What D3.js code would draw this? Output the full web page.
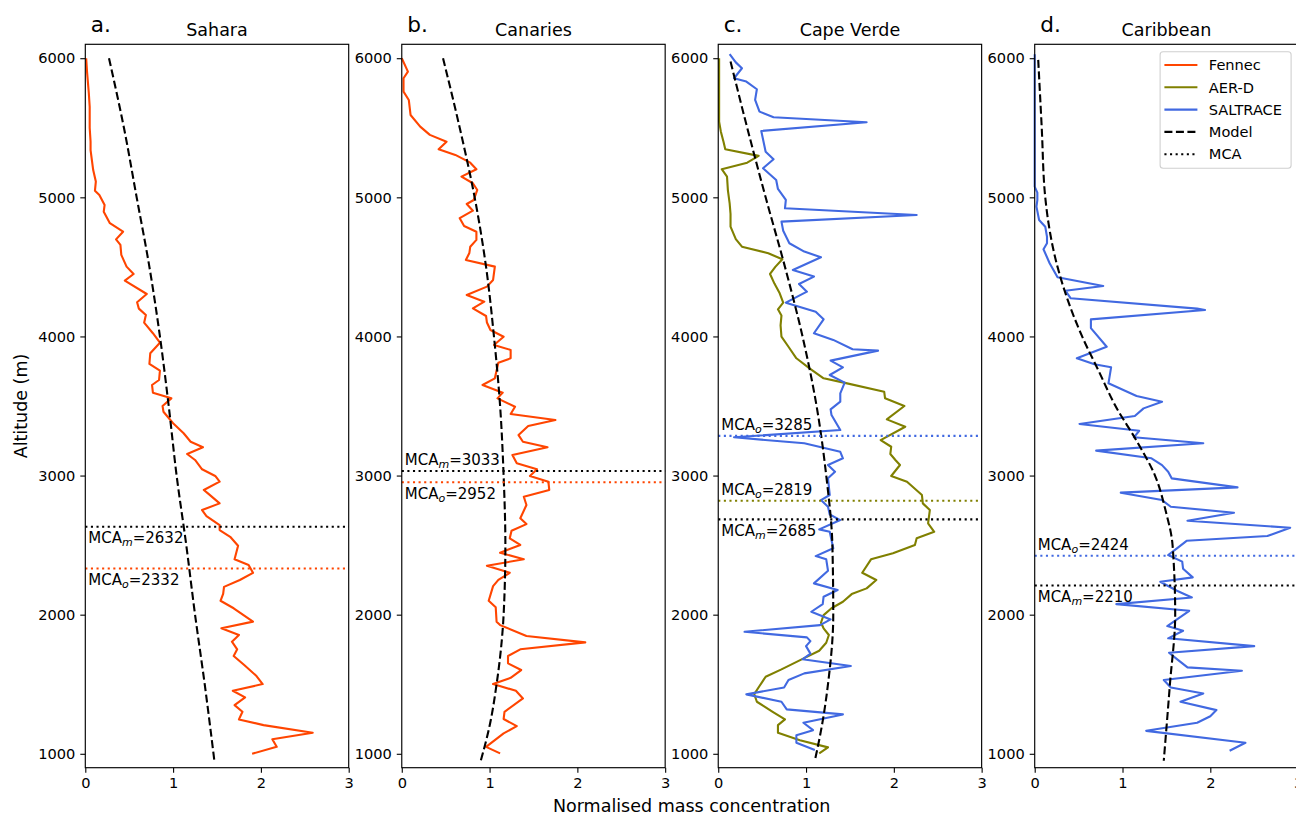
<!DOCTYPE html>
<html lang="en">
<head>
<meta charset="utf-8">
<script src="https://cdn.jsdelivr.net/npm/d3@7"></script>
<style>
  body { margin: 0; background: #fff; }
  svg { font-family: "DejaVu Sans", sans-serif; }
</style>
</head>
<body>
<script>
// ---- data: [altitude (m), normalised mass concentration] ----
var saharaFennec = [[6000,0.01],[5900,0.02],[5750,0.04],[5650,0.05],[5592,0.05],[5500,0.05],[5400,0.06],[5340,0.06],[5196,0.09],[5113,0.12],[5048,0.11],[5017,0.16],[4945,0.22],[4897,0.21],[4814,0.28],[4753,0.43],[4698,0.35],[4658,0.40],[4586,0.41],[4502,0.47],[4449,0.55],[4401,0.45],[4305,0.70],[4246,0.59],[4200,0.61],[4154,0.69],[4099,0.67],[4023,0.77],[3955,0.85],[3879,0.74],[3802,0.73],[3754,0.85],[3687,0.84],[3651,0.76],[3596,0.77],[3555,0.98],[3500,0.88],[3459,0.89],[3376,1.00],[3304,1.12],[3243,1.20],[3203,1.34],[3155,1.16],[3112,1.25],[3045,1.33],[2997,1.48],[2956,1.53],[2896,1.35],[2870,1.40],[2800,1.53],[2752,1.33],[2709,1.38],[2644,1.53],[2608,1.53],[2560,1.65],[2495,1.74],[2398,1.70],[2357,1.86],[2301,1.91],[2249,1.76],[2200,1.58],[2150,1.57],[2100,1.54],[2046,1.69],[1950,1.91],[1902,1.55],[1854,1.75],[1806,1.67],[1751,1.73],[1703,1.69],[1638,1.81],[1559,1.95],[1501,2.02],[1453,1.68],[1405,1.82],[1350,1.70],[1302,1.79],[1247,1.75],[1206,2.03],[1151,2.59],[1104,2.13],[1050,2.18],[1000,1.90]];
var saharaModel = [[6000,0.27],[5500,0.44],[5000,0.585],[4500,0.73],[4000,0.85],[3500,0.95],[3000,1.04],[2500,1.15],[2000,1.25],[1500,1.36],[950,1.47]];

var canariesFennec = [[6000,0.00],[5904,0.07],[5856,0.02],[5760,0.02],[5700,0.08],[5592,0.10],[5508,0.21],[5449,0.32],[5400,0.51],[5346,0.42],[5305,0.61],[5249,0.78],[5202,0.85],[5149,0.68],[5101,0.81],[5053,0.86],[4981,0.82],[4952,0.74],[4904,0.81],[4850,0.66],[4794,0.71],[4753,0.85],[4694,0.85],[4645,0.78],[4600,0.77],[4550,0.73],[4502,1.06],[4406,1.04],[4358,0.97],[4298,0.74],[4250,0.94],[4202,0.81],[4147,0.96],[4100,0.97],[4046,1.01],[3998,1.16],[3939,1.05],[3903,1.24],[3843,1.24],[3811,1.10],[3699,1.06],[3651,0.92],[3596,1.15],[3555,1.09],[3495,1.29],[3443,1.24],[3399,1.75],[3356,1.44],[3291,1.33],[3243,1.38],[3203,1.66],[3148,1.26],[3088,1.31],[3045,1.54],[2997,1.46],[2956,1.67],[2896,1.68],[2848,1.39],[2788,1.42],[2693,1.35],[2651,1.42],[2603,1.25],[2549,1.23],[2501,1.35],[2445,1.12],[2398,1.39],[2352,0.97],[2301,1.23],[2250,1.10],[2205,1.04],[2100,0.99],[2053,1.07],[1949,1.08],[1925,1.12],[1847,1.42],[1801,2.09],[1751,1.35],[1703,1.21],[1650,1.21],[1602,1.36],[1546,1.24],[1501,1.04],[1453,1.30],[1398,1.38],[1302,1.17],[1250,1.16],[1199,1.31],[1147,1.16],[1050,0.96],[1003,1.12]];
var canariesModel = [[6000,0.47],[5500,0.66],[5000,0.83],[4500,0.96],[4000,1.05],[3500,1.12],[3000,1.16],[2500,1.18],[2000,1.16],[1500,1.08],[1200,1.00],[950,0.90]];

var capeVerdeAerd = [[6000,0.01],[5544,0.01],[5472,0.03],[5400,0.06],[5346,0.08],[5298,0.46],[5249,0.33],[5202,0.04],[5149,0.10],[5050,0.11],[4957,0.13],[4880,0.14],[4789,0.14],[4700,0.20],[4645,0.27],[4598,0.57],[4555,0.73],[4500,0.65],[4449,0.59],[4380,0.64],[4310,0.70],[4243,0.74],[4195,0.68],[4150,0.72],[4080,0.71],[3998,0.72],[3926,0.80],[3843,0.89],[3771,1.04],[3699,1.20],[3668,1.43],[3603,1.89],[3555,1.90],[3500,2.12],[3404,1.92],[3351,2.13],[3255,1.85],[3207,1.97],[3155,1.96],[3110,2.02],[3076,2.07],[2997,1.97],[2956,2.15],[2860,2.32],[2800,2.33],[2752,2.41],[2657,2.39],[2596,2.46],[2549,2.26],[2501,2.24],[2441,1.99],[2398,1.74],[2301,1.64],[2249,1.80],[2189,1.69],[2148,1.52],[2093,1.42],[2046,1.29],[1997,1.20],[1942,1.17],[1902,1.20],[1854,1.26],[1798,1.23],[1741,1.15],[1679,0.95],[1607,0.72],[1554,0.54],[1487,0.47],[1429,0.41],[1374,0.44],[1302,0.62],[1247,0.76],[1206,0.68],[1151,0.68],[1098,0.93],[1046,1.25],[1003,1.15]];
var capeVerdeSaltrace = [[6029,0.13],[5970,0.20],[5928,0.27],[5856,0.18],[5832,0.32],[5777,0.44],[5700,0.42],[5616,0.47],[5576,0.63],[5540,1.69],[5477,0.49],[5328,0.54],[5274,0.63],[5209,0.51],[5125,0.66],[5060,0.68],[4981,0.77],[4921,0.76],[4873,2.26],[4825,0.72],[4760,0.74],[4670,0.81],[4610,0.98],[4569,1.17],[4478,0.85],[4430,1.09],[4377,0.92],[4322,1.01],[4243,0.77],[4178,1.11],[4123,1.20],[4023,1.09],[3975,1.31],[3908,1.53],[3898,1.82],[3826,1.28],[3778,1.42],[3723,1.27],[3668,1.44],[3591,1.39],[3531,1.39],[3476,1.28],[3435,1.29],[3327,1.39],[3275,0.18],[3232,0.98],[3171,1.39],[3124,1.42],[3076,1.25],[3028,1.33],[2980,1.25],[2860,1.27],[2824,1.17],[2776,1.25],[2720,1.27],[2680,1.39],[2613,1.15],[2596,1.27],[2477,1.31],[2421,1.11],[2398,1.23],[2316,1.25],[2225,1.09],[2177,1.36],[2129,1.20],[2076,1.19],[2021,1.06],[1966,1.28],[1925,1.16],[1877,0.30],[1837,1.01],[1810,1.05],[1774,1.00],[1720,1.05],[1679,0.96],[1631,1.51],[1578,0.98],[1530,0.80],[1477,0.75],[1427,0.32],[1374,0.72],[1319,0.78],[1283,1.42],[1223,0.97],[1170,1.08],[1134,0.89],[1079,0.89],[1027,1.10]];
var capeVerdeModel = [[5976,0.14],[5500,0.33],[5000,0.54],[4500,0.76],[4000,0.96],[3500,1.12],[3000,1.23],[2500,1.30],[2000,1.31],[1500,1.25],[1200,1.18],[950,1.10]];

var caribbeanSaltrace = [[6029,0.00],[5077,0.00],[5034,0.03],[4980,0.03],[4933,0.02],[4837,0.05],[4789,0.12],[4717,0.14],[4670,0.14],[4627,0.10],[4526,0.17],[4425,0.26],[4363,0.78],[4329,0.35],[4274,0.41],[4200,1.85],[4190,1.94],[4123,0.64],[4060,0.64],[3926,0.82],[3843,0.48],[3800,0.68],[3778,0.87],[3663,0.84],[3572,1.16],[3531,1.45],[3483,1.24],[3428,1.14],[3371,0.51],[3322,1.19],[3275,1.13],[3232,1.92],[3179,0.70],[3124,1.33],[3075,1.45],[3028,1.52],[2980,1.56],[2915,2.31],[2877,0.98],[2824,1.45],[2776,1.55],[2733,2.27],[2675,1.74],[2625,2.91],[2565,2.65],[2531,1.73],[2477,1.62],[2429,1.52],[2381,1.68],[2330,1.69],[2268,1.80],[2237,1.43],[2172,1.62],[2124,1.79],[2076,0.93],[2028,1.76],[1918,1.51],[1884,1.69],[1830,1.52],[1774,2.50],[1726,1.53],[1680,1.62],[1621,1.74],[1597,2.36],[1530,1.47],[1477,1.55],[1434,1.92],[1374,1.66],[1314,2.07],[1270,2.00],[1223,1.85],[1165,1.27],[1079,2.40],[1022,2.22]];
var caribbeanModel = [[5988,0.04],[5500,0.08],[5000,0.12],[4500,0.26],[4000,0.54],[3750,0.73],[3500,0.92],[3250,1.16],[3000,1.37],[2750,1.49],[2500,1.57],[2000,1.60],[1500,1.54],[950,1.47]];

// MCA lines: [altitude, subscript, colour, label above line?]
var saharaMca = [[2632,"m","#000000",false],[2332,"o","#ff4500",false]];
var canariesMca = [[3033,"m","#000000",true],[2952,"o","#ff4500",false]];
var capeVerdeMca = [[3285,"o","#4169e1",true],[2819,"o","#808000",true],[2685,"m","#000000",false]];
var caribbeanMca = [[2424,"o","#4169e1",true],[2210,"m","#000000",false]];

var panelTitles = ["Sahara","Canaries","Cape Verde","Caribbean"];
var panelLetters = ["a.","b.","c.","d."];
var yTicks = [1000,2000,3000,4000,5000,6000];
var xTicks = [0,1,2,3];
var legendNames = ["Fennec","AER-D","SALTRACE","Model","MCA"];

var colors = {fennec:"#ff4500", aerd:"#808000", saltrace:"#4169e1"};

var panels = [
  {series:[{d:saharaFennec,c:colors.fennec}], model:saharaModel, mca:saharaMca},
  {series:[{d:canariesFennec,c:colors.fennec}], model:canariesModel, mca:canariesMca},
  {series:[{d:capeVerdeAerd,c:colors.aerd},{d:capeVerdeSaltrace,c:colors.saltrace}], model:capeVerdeModel, mca:capeVerdeMca},
  {series:[{d:caribbeanSaltrace,c:colors.saltrace}], model:caribbeanModel, mca:caribbeanMca}
];

var W = 1296, H = 816;
var panelW = 263.4, panelStep = 316.47, firstLeft = 85.3;
var plotTop = 44.3, plotBottom = 767.7;

var svg = d3.select("body").append("svg")
  .attr("width", W).attr("height", H);

var y = d3.scaleLinear().domain([900, 6100]).range([plotBottom, plotTop]);

var lw = 2.1;

panels.forEach(function(p, i) {
  var left = firstLeft + i * panelStep;
  var x = d3.scaleLinear().domain([0, 3]).range([left, left + panelW]);
  var g = svg.append("g");

  var line = d3.line()
    .x(function(d) { return x(d[1]); })
    .y(function(d) { return y(d[0]); });

  // measured profiles
  p.series.forEach(function(s) {
    g.append("path")
      .datum(s.d)
      .attr("d", line)
      .attr("fill", "none")
      .attr("stroke", s.c)
      .attr("stroke-width", lw)
      .attr("stroke-linejoin", "round");
  });

  // model
  g.append("path")
    .datum(p.model)
    .attr("d", line.curve(d3.curveMonotoneY))
    .attr("fill", "none")
    .attr("stroke", "#000")
    .attr("stroke-width", lw)
    .attr("stroke-dasharray", "8,3.5");

  // MCA lines + labels
  p.mca.forEach(function(m) {
    var yy = y(m[0]);
    g.append("line")
      .attr("x1", x(0)).attr("x2", x(3))
      .attr("y1", yy).attr("y2", yy)
      .attr("stroke", m[2])
      .attr("stroke-width", lw)
      .attr("stroke-dasharray", "2.1,3.5");
    var t = g.append("text")
      .attr("x", x(0) + 3)
      .attr("y", m[3] ? yy - 5.5 : yy + 16.5)
      .style("font-size", "15px")
      .attr("fill", "#000");
    t.append("tspan").text("MCA");
    t.append("tspan").style("font-style", "italic").style("font-size", "11px").attr("dy", 3).text(m[1]);
    t.append("tspan").attr("dy", -3).text("=" + m[0]);
  });

  // axes
  var ya = g.append("g")
    .attr("transform", "translate(" + left + ",0)")
    .call(d3.axisLeft(y).tickValues(yTicks).tickFormat(d3.format("d")).tickSize(5).tickPadding(5).tickSizeOuter(0));
  var xa = g.append("g")
    .attr("transform", "translate(0," + plotBottom + ")")
    .call(d3.axisBottom(x).tickValues(xTicks).tickFormat(d3.format("d")).tickSize(5).tickPadding(5).tickSizeOuter(0));
  [ya, xa].forEach(function(a) {
    a.attr("font-size", null).attr("font-family", null);
    a.select(".domain").remove();
    a.selectAll("line").attr("stroke", "#000").attr("stroke-width", 1.1);
    a.selectAll("text").style("font-size", "14.6px").attr("fill", "#000");
  });

  // frame
  g.append("rect")
    .attr("x", left).attr("y", plotTop)
    .attr("width", panelW).attr("height", plotBottom - plotTop)
    .attr("fill", "none")
    .attr("stroke", "#000")
    .attr("stroke-width", 1.15);

  // title and letter
  g.append("text")
    .attr("x", left + panelW / 2).attr("y", 35.5)
    .attr("text-anchor", "middle")
    .style("font-size", "17.5px")
    .text(panelTitles[i]);
  g.append("text")
    .attr("x", left + 5.5).attr("y", 32)
    .style("font-size", "21.6px")
    .text(panelLetters[i]);

  // legend in last panel
  if (i === 3) {
    var lx = left + panelW - 7 - 131, ly = 51.7;
    var lg = g.append("g");
    lg.append("rect")
      .attr("x", lx).attr("y", ly)
      .attr("width", 131).attr("height", 116.6)
      .attr("rx", 3)
      .attr("fill", "#fff").attr("fill-opacity", 0.8)
      .attr("stroke", "#d0d0d0").attr("stroke-width", 1.1);
    var styles = [
      {c:colors.fennec, dash:null},
      {c:colors.aerd, dash:null},
      {c:colors.saltrace, dash:null},
      {c:"#000", dash:"8,3.5"},
      {c:"#000", dash:"2.1,3.5"}
    ];
    legendNames.forEach(function(name, k) {
      var cy = 65 + k * 22.3;
      lg.append("line")
        .attr("x1", lx + 4.3).attr("x2", lx + 37.3)
        .attr("y1", cy).attr("y2", cy)
        .attr("stroke", styles[k].c)
        .attr("stroke-width", lw)
        .attr("stroke-dasharray", styles[k].dash);
      lg.append("text")
        .attr("x", lx + 48.7).attr("y", cy + 5.2)
        .style("font-size", "14.6px")
        .text(name);
    });
  }
});

// shared axis labels
svg.append("text")
  .attr("transform", "translate(27," + ((plotTop + plotBottom) / 2) + ") rotate(-90)")
  .attr("text-anchor", "middle")
  .style("font-size", "17.5px")
  .text("Altitude (m)");

svg.append("text")
  .attr("x", (firstLeft + firstLeft + 3 * panelStep + panelW) / 2)
  .attr("y", 812)
  .attr("text-anchor", "middle")
  .style("font-size", "17.5px")
  .text("Normalised mass concentration");
</script>
</body>
</html>
